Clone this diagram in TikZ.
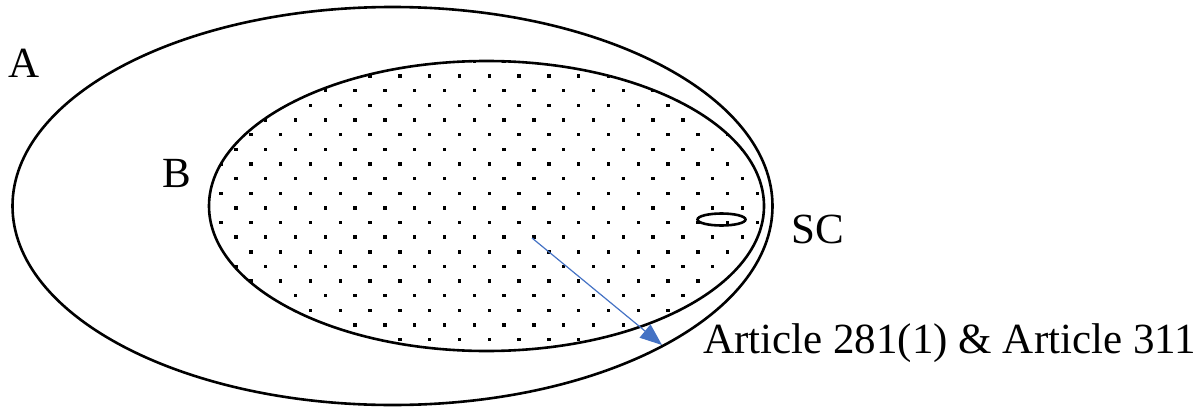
\documentclass[tikz,border=0pt]{standalone}
\usepackage{fontspec}
\setmainfont{Liberation Serif}
\usetikzlibrary{arrows.meta}
\definecolor{arrowblue}{RGB}{68,114,196}
\begin{document}
\begin{tikzpicture}[x=1pt, y=-1pt, every node/.style={inner sep=0pt, anchor=base west, font=\fontsize{43}{50}\selectfont},
        setline/.style={line width=2.6pt},
        pointer/.style={draw=arrowblue, line width=1.2pt, -{Triangle[length=22pt,width=17pt]}}]
        \useasboundingbox (0,0) rectangle (1204,415);

        % Menge A
        \draw[setline] (392.5,206) ellipse (380 and 199);
        \node (lblA) at (8,77) {A};

        % Menge B (punktiert)
        \begin{scope}
            \clip (486.5,206) ellipse (277.5 and 145);
            \foreach \k in {0,...,21}
                \foreach \m in {-8,...,14}
                    \fill ({370+29.8*\m+14.9*mod(\k,2)}, {46.7+14.65*\k}) ++(-1.7,-1.7) rectangle ++(3.4,3.4);
        \end{scope}
        \draw[setline] (486.5,206) ellipse (277.5 and 145);
        \node (lblB) at (162,187) {B};

        % SC
        \draw[setline] (721.5,219.5) ellipse (24 and 6);
        \node (lblSC) at (791,243) {SC};

        % Pfeil
        \coordinate (arrowstart) at (532,238);
        \coordinate (arrowend) at (662,345);
        \draw[pointer] (arrowstart) -- (arrowend);
        \node (lblArt) at (703,353) {Article 281(1) \& Article 311};
    \end{tikzpicture}
\end{document}
